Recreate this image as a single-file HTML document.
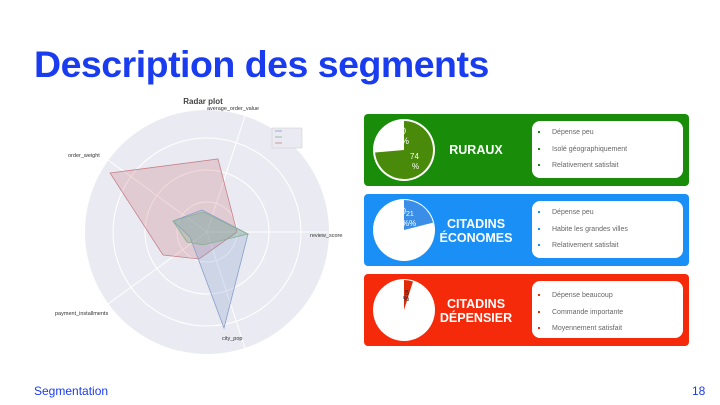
<!DOCTYPE html>
<html><head><style>
body{margin:0;width:720px;height:405px;background:#fff;position:relative;overflow:hidden;font-family:"Liberation Sans",sans-serif}
h1{position:absolute;left:34px;top:43px;margin:0;font-size:37.5px;font-weight:bold;color:#1a3cf0;letter-spacing:-0.5px}
.foot{position:absolute;top:384px;font-size:12px;color:#1a3cf0}
.box{position:absolute;left:364px;width:325px;height:72px;border-radius:4px}
.title{position:absolute;left:52px;width:120px;text-align:center;color:#fff;font-weight:bold;font-size:12.5px;line-height:14px}
.list{position:absolute;left:168px;top:7px;width:151px;height:57px;background:#fff;border-radius:8px}
.list div{position:absolute;left:20px;font-size:7px;color:#666}
.list div:before{content:"";position:absolute;left:-14px;top:2px;width:2px;height:2px}
.box .list div:before{background:#198c0a}
.box.b .list div:before{background:#1a8ff5}
.box.r .list div:before{background:#f52a0a}
</style></head><body>
<h1>Description des segments</h1>
<svg style="position:absolute;left:0;top:0" width="360" height="370">
<text x="203" y="104" font-size="8" font-weight="bold" fill="#444" text-anchor="middle" font-family="Liberation Sans">Radar plot</text>
<circle cx="207" cy="232" r="122" fill="#eaeaf2"/>
<g stroke="#fff" stroke-width="1" fill="none">
<circle cx="207" cy="232" r="30"/><circle cx="207" cy="232" r="62"/><circle cx="207" cy="232" r="94"/>
<line x1="207" y1="232" x2="329" y2="232"/><line x1="207" y1="232" x2="245" y2="116"/>
<line x1="207" y1="232" x2="108" y2="160"/><line x1="207" y1="232" x2="108" y2="304"/>
<line x1="207" y1="232" x2="245" y2="348"/>
</g>
<polygon points="110,173 218,159 237,232 199,259 163,255" fill="rgba(200,110,120,0.25)" stroke="#c88088" stroke-width="0.8"/>
<polygon points="173,221 202,210 248,234 224,328 190,237" fill="rgba(120,150,200,0.25)" stroke="#8aa0c8" stroke-width="0.8"/>
<polygon points="173,221 203,212 248,234 203,245 187,242" fill="rgba(120,170,130,0.3)" stroke="#8ab090" stroke-width="0.8"/>
<g font-size="5.5" fill="#333" font-family="Liberation Sans">
<text x="207" y="110">average_order_value</text>
<text x="68" y="157">order_weight</text>
<text x="310" y="237">review_score</text>
<text x="55" y="315">payment_installments</text>
<text x="222" y="340">city_pop</text>
</g>
<rect x="272" y="128" width="30" height="20" fill="#eaeaf2" stroke="#ccc" stroke-width="0.5"/>
<g stroke-width="0.8"><line x1="275" y1="131" x2="282" y2="131" stroke="#8aa0c8"/><line x1="275" y1="137" x2="282" y2="137" stroke="#8ab090"/><line x1="275" y1="143" x2="282" y2="143" stroke="#c88088"/></g>
</svg>

<div class="box" style="top:114px;background:#198c0a">
<svg style="position:absolute;left:0;top:0" width="90" height="72">
<circle cx="40" cy="36" r="31" fill="#fff"/>
<path d="M40 36 L40 7 A29 29 0 1 1 11.1 38.5 Z" fill="#4a8a0a"/>
<text x="37" y="20" font-size="9" fill="#fff">0</text><text x="37" y="30" font-size="9" fill="#fff">%</text>
<text x="46" y="45" font-size="8" fill="#fff">74</text><text x="48" y="55" font-size="8" fill="#fff">%</text>
</svg>
<div class="title" style="top:29px">RURAUX</div>
<div class="list"><div style="top:8px">Dépense peu</div><div style="top:25px">Isolé géographiquement</div><div style="top:41px">Relativement satisfait</div></div>
</div>
<div class="box b" style="top:194px;background:#1a8ff5">
<svg style="position:absolute;left:0;top:0" width="90" height="72">
<circle cx="40" cy="36" r="31" fill="#fff"/>
<path d="M40 36 L40 6 A30 30 0 0 1 69.1 28.6 Z" fill="#3a8ee8"/>
<text x="37" y="20" font-size="9" fill="#fff">0</text><text x="42" y="22" font-size="7" fill="#fff">21</text><text x="38" y="32" font-size="8" fill="#fff">%%</text>
</svg>
<div class="title" style="top:23px">CITADINS<br>ÉCONOMES</div>
<div class="list"><div style="top:8px">Dépense peu</div><div style="top:25px">Habite les grandes villes</div><div style="top:41px">Relativement satisfait</div></div>
</div>
<div class="box r" style="top:274px;background:#f52a0a">
<svg style="position:absolute;left:0;top:0" width="90" height="72">
<circle cx="40" cy="36" r="31" fill="#fff"/>
<path d="M40 36 L40 6 A30 30 0 0 1 49 7.5 Z" fill="#e02a0a"/>
<text x="41" y="21" font-size="7" fill="#222">5</text><text x="39" y="27" font-size="7" fill="#222">%</text>
</svg>
<div class="title" style="top:23px">CITADINS<br>DÉPENSIER</div>
<div class="list"><div style="top:11px">Dépense beaucoup</div><div style="top:28px">Commande importante</div><div style="top:44px">Moyennement satisfait</div></div>
</div>
<div class="foot" style="left:34px">Segmentation</div>
<div class="foot" style="left:692px">18</div>
</body></html>
